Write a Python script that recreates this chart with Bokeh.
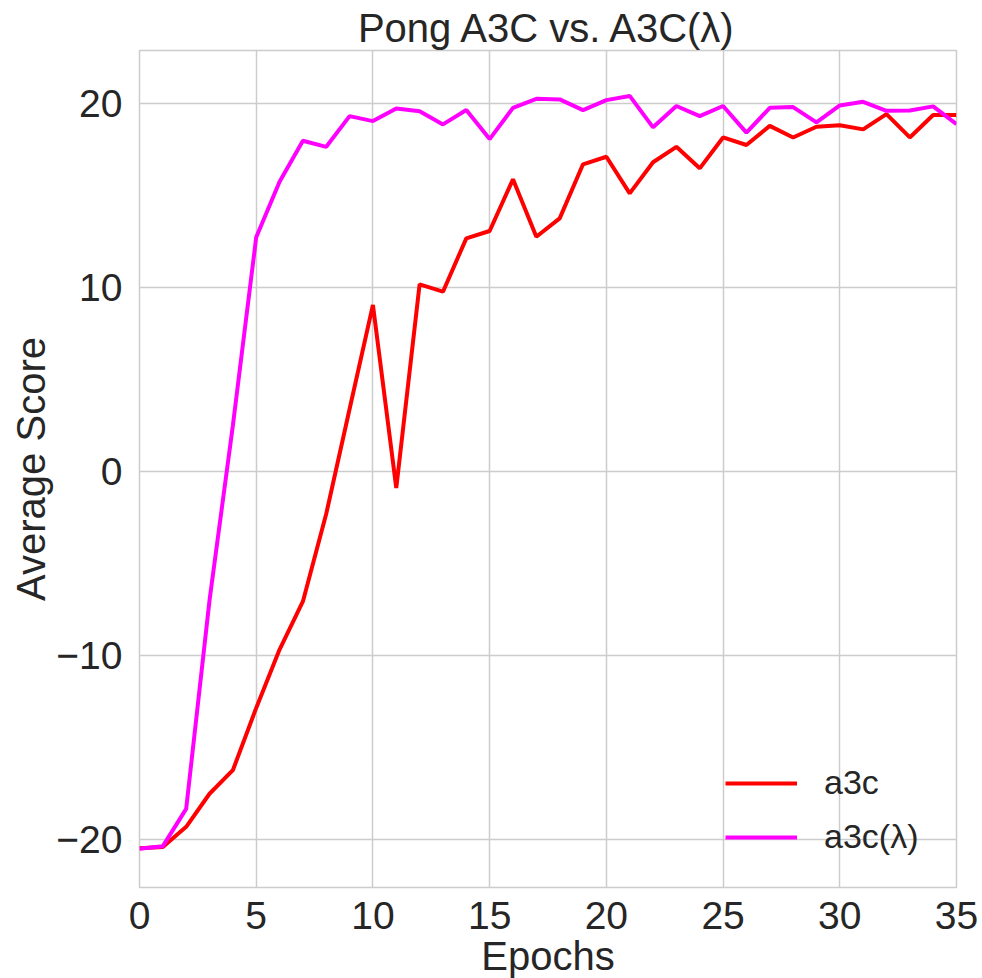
from bokeh.plotting import figure
from bokeh.models import Range1d, FixedTicker, Legend, LegendItem
from bokeh.embed import file_html
from bokeh.resources import INLINE

epochs = list(range(36))
a3c = [-20.49, -20.43, -19.33, -17.53, -16.25, -12.86, -9.69, -7.07, -2.3, 3.4,
       9.06, -0.9, 10.18, 9.78, 12.68, 13.08, 15.89, 12.77, 13.77, 16.71,
       17.12, 15.13, 16.82, 17.66, 16.49, 18.17, 17.76, 18.8, 18.17, 18.75,
       18.83, 18.61, 19.44, 18.17, 19.39, 19.39]
a3c_lambda = [-20.52, -20.38, -18.35, -7.0, 2.5, 12.74, 15.76, 17.99, 17.66, 19.33,
              19.06, 19.75, 19.6, 18.88, 19.66, 18.08, 19.78, 20.27, 20.24, 19.66,
              20.2, 20.43, 18.72, 19.88, 19.33, 19.88, 18.43, 19.78, 19.82, 18.99,
              19.91, 20.11, 19.62, 19.64, 19.86, 18.9]
series_names = ["a3c", "a3c(λ)"]
x_ticks = [0, 5, 10, 15, 20, 25, 30, 35]
y_ticks = [-20, -10, 0, 10, 20]

FONT = "Liberation Sans"
TXT = "#262626"
GRID = "#cccccc"

p = figure(frame_width=817, frame_height=837,
           x_range=Range1d(0, 35), y_range=Range1d(-22.63, 22.9),
           output_backend="svg", toolbar_location=None,
           min_border_left=139, min_border_right=26,
           min_border_top=50, min_border_bottom=91,
           title="Pong A3C vs. A3C(λ)")

p.title.text_font = FONT
p.title.text_font_size = "40px"
p.title.text_font_style = "normal"
p.title.text_color = TXT
p.title.align = "center"
p.title.standoff = 2
p.title.offset = 0

p.background_fill_color = "white"
p.border_fill_color = "white"
p.outline_line_color = GRID
p.outline_line_width = 1.5

p.xaxis.ticker = FixedTicker(ticks=x_ticks)
p.yaxis.ticker = FixedTicker(ticks=y_ticks)
p.yaxis.major_label_overrides = {t: (("\u2212" + str(-t)) if t < 0 else str(t)) for t in y_ticks}
p.xaxis.axis_label = "Epochs"
p.yaxis.axis_label = "Average Score"

for ax in (p.xaxis[0], p.yaxis[0]):
    ax.axis_line_color = None
    ax.major_tick_line_color = None
    ax.minor_tick_line_color = None
    ax.major_label_text_font = FONT
    ax.major_label_text_font_size = "39px"
    ax.major_label_text_color = TXT
    ax.axis_label_text_font = FONT
    ax.axis_label_text_font_size = "40px"
    ax.axis_label_text_font_style = "normal"
    ax.axis_label_text_color = TXT
p.xaxis.major_label_standoff = 8
p.xaxis.axis_label_standoff = 2
p.yaxis.major_label_standoff = 11
p.yaxis.axis_label_standoff = 0

p.xgrid.grid_line_color = GRID
p.ygrid.grid_line_color = GRID
p.xgrid.grid_line_width = 1.5
p.ygrid.grid_line_width = 1.5

r1 = p.line(epochs, a3c, line_color="#ff0000", line_width=4)
r2 = p.line(epochs, a3c_lambda, line_color="#ff00ff", line_width=4)

legend = Legend(items=[LegendItem(label=series_names[0], renderers=[r1]),
                       LegendItem(label=series_names[1], renderers=[r2])],
                location=(586, 31))
legend.background_fill_alpha = 0
legend.border_line_color = None
legend.label_text_font = FONT
legend.label_text_font_size = "34px"
legend.label_text_color = TXT
legend.glyph_width = 72
legend.glyph_height = 38
legend.label_height = 38
legend.spacing = 15
legend.padding = 0
legend.margin = 0
legend.label_standoff = 27
p.add_layout(legend)

open("out.html", "w").write(file_html(p, INLINE))
